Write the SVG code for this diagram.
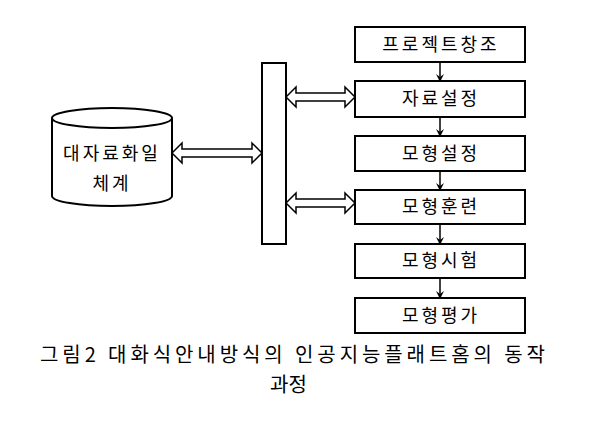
<svg xmlns="http://www.w3.org/2000/svg" width="600" height="432" viewBox="0 0 600 432">
<style>
.b{fill:#fff;stroke:#000;stroke-width:2}
.t{font-family:"Noto Sans CJK KR","Noto Sans",sans-serif;font-size:18px;text-anchor:middle;fill:#000;letter-spacing:3px}
.c{font-family:"Noto Sans CJK KR","Noto Sans",sans-serif;font-size:20px;fill:#000}
.a{fill:#fff;stroke:#000;stroke-width:1.5}
.l{stroke:#000;stroke-width:1.5}
</style>
<defs><marker id="m" markerWidth="8" markerHeight="8" refX="7" refY="4" orient="auto" markerUnits="userSpaceOnUse"><path d="M0,0 L8,4 L0,8 L3,4 Z" fill="#000"/></marker></defs>
<rect width="600" height="432" fill="#fff"/>
<g id="db">
<path class="b" d="M52,118 L52,196 A60,10 0 0 0 172,196 L172,118 A60,10 0 0 0 52,118 A60,10 0 0 0 172,118"/>
<text class="t" x="112" y="160">대자료화일</text>
<text class="t" x="112" y="190">체계</text>
</g>
<g id="bar"><rect class="b" x="262" y="63" width="24" height="181"/></g>
<g id="n1"><rect class="b" x="355" y="27" width="170" height="35"/><text class="t" x="441" y="51">프로젝트창조</text></g>
<g id="n2"><rect class="b" x="355" y="81" width="170" height="36"/><text class="t" x="441" y="105">자료설정</text></g>
<g id="n3"><rect class="b" x="355" y="136" width="170" height="35"/><text class="t" x="441" y="160">모형설정</text></g>
<g id="n4"><rect class="b" x="355" y="190" width="170" height="34"/><text class="t" x="441" y="213">모형훈련</text></g>
<g id="n5"><rect class="b" x="355" y="244" width="170" height="34"/><text class="t" x="441" y="267">모형시험</text></g>
<g id="n6"><rect class="b" x="355" y="298" width="170" height="35"/><text class="t" x="441" y="322">모형평가</text></g>
<g id="connectors">
<line class="l" x1="440" y1="62" x2="440" y2="81" marker-end="url(#m)"/>
<line class="l" x1="440" y1="117" x2="440" y2="136" marker-end="url(#m)"/>
<line class="l" x1="440" y1="171" x2="440" y2="190" marker-end="url(#m)"/>
<line class="l" x1="440" y1="224" x2="440" y2="244" marker-end="url(#m)"/>
<line class="l" x1="440" y1="278" x2="440" y2="298" marker-end="url(#m)"/>
<polygon class="a" points="286,97 296,87 296,93 345,93 345,87 355,97 345,107 345,101 296,101 296,107"/>
<polygon class="a" points="172,153 182,143 182,149 252,149 252,143 262,153 252,163 252,157 182,157 182,163"/>
<polygon class="a" points="286,203 296,193 296,199 345,199 345,193 355,203 345,213 345,207 296,207 296,213"/>
</g>
<text class="c" x="40" y="362" textLength="505" lengthAdjust="spacing">그림2 대화식안내방식의 인공지능플래트홈의 동작</text>
<text class="c" x="270" y="392">과정</text>
</svg>
